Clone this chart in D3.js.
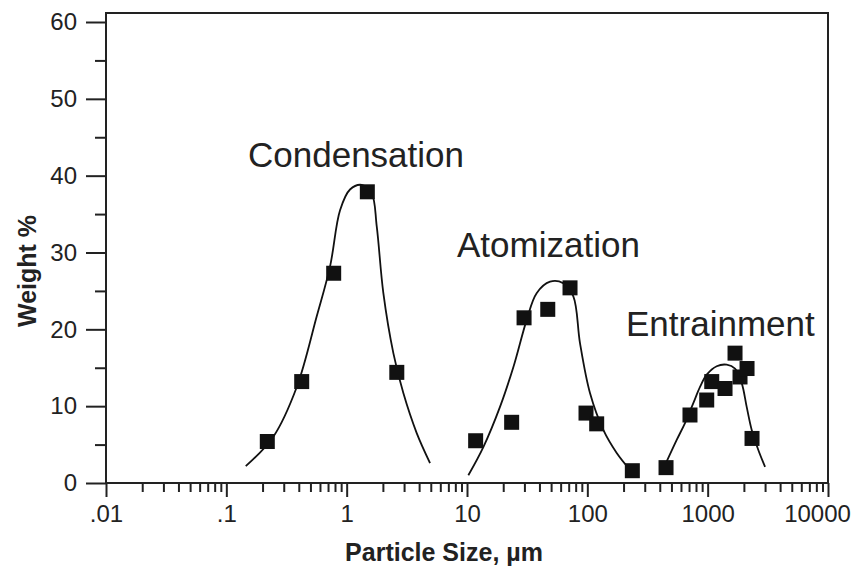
<!DOCTYPE html>
<html>
<head>
<meta charset="utf-8">
<script src="https://cdn.jsdelivr.net/npm/d3@7"></script>
<style>
  body { margin: 0; background: #fff; }
  svg { display: block; }
  text { font-family: "Liberation Sans", Arial, Helvetica, sans-serif; fill: #222; }
</style>
</head>
<body>
<div id="chart"></div>
<script>
// measured points (particle size in um, weight %)
const condSize = [0.219, 0.423, 0.78, 1.485, 2.61];
const condWeight = [5.4, 13.2, 27.3, 37.9, 14.4];
const atomSize = [11.8, 23.5, 29.8, 46.9, 71.8, 97.5, 119.6, 236.6];
const atomWeight = [5.5, 7.9, 21.5, 22.6, 25.4, 9.1, 7.7, 1.6];
const entrSize = [450.8, 713, 982, 1081, 1394, 1688, 1857, 2124, 2337];
const entrWeight = [2.0, 8.85, 10.8, 13.2, 12.3, 16.9, 13.8, 14.9, 5.8];

// fitted curves
const condCurveSize = [0.145, 0.245, 0.385, 0.564, 0.728, 0.881, 1.066, 1.333, 1.614, 1.778, 2.018, 2.443, 2.958, 3.82, 4.93];
const condCurveWeight = [2.2, 6.0, 12.5, 21.7, 28.2, 35.5, 38.2, 38.8, 37.7, 33.4, 24.7, 16.9, 11.7, 6.5, 2.6];
const atomCurveSize = [10.26, 13.7, 18.8, 24.3, 31.3, 37.9, 49.0, 63.1, 76.5, 86.9, 105.2, 135.8, 175.4, 226.4];
const atomCurveWeight = [1.0, 4.7, 9.9, 15.1, 21.2, 24.7, 26.2, 26.0, 24.3, 18.2, 11.7, 6.9, 3.9, 1.7];
const entrCurveSize = [456.7, 553, 648, 760, 864, 982, 1189, 1439, 1688, 1919, 2110, 2323, 2636, 2999];
const entrCurveWeight = [2.8, 5.6, 7.8, 10.4, 12.5, 14.1, 15.2, 15.4, 14.9, 13.0, 9.9, 6.9, 4.3, 2.1];

const groupNames = ["Condensation", "Atomization", "Entrainment"];

const xTickValues = [0.01, 0.1, 1, 10, 100, 1000, 10000];
const xTickLabels = [".01", ".1", "1", "10", "100", "1000", "10000"];
const yTickValues = [0, 10, 20, 30, 40, 50, 60];
const yMinorValues = [5, 15, 25, 35, 45, 55];

const width = 856;
const height = 567;
const margin = { top: 13, right: 28, bottom: 84, left: 106 };

const svg = d3.select("#chart")
    .append("svg")
    .attr("width", width)
    .attr("height", height);

const x = d3.scaleLog()
    .domain([0.01, 10000])
    .range([margin.left, width - margin.right]);

const y = d3.scaleLinear()
    .domain([0, 60])
    .range([height - margin.bottom, 22]);

const xMinor = [];
for (let d = -2; d < 4; d++) {
    for (let k = 2; k <= 9; k++) xMinor.push(k * Math.pow(10, d));
}

// x axis, major + minor ticks
svg.append("g")
    .attr("transform", `translate(0,${y(0)})`)
    .call(d3.axisBottom(x).tickValues(xTickValues)
        .tickFormat((d, i) => xTickLabels[i])
        .tickSize(14).tickPadding(8))
    .call(g => g.select(".domain").remove())
    .call(g => g.selectAll("line").attr("stroke", "#222").attr("stroke-width", 2))
    .call(g => g.selectAll("text").attr("font-size", "24px").attr("fill", "#222")
        .attr("dx", (d, i) => i === xTickValues.length - 1 ? -11 : 0));

svg.append("g")
    .attr("transform", `translate(0,${y(0)})`)
    .call(d3.axisBottom(x).tickValues(xMinor).tickFormat("").tickSize(9))
    .call(g => g.select(".domain").remove())
    .call(g => g.selectAll("line").attr("stroke", "#222").attr("stroke-width", 2));

// y axis
svg.append("g")
    .attr("transform", `translate(${margin.left},0)`)
    .call(d3.axisLeft(y).tickValues(yTickValues).tickSize(20).tickPadding(9))
    .call(g => g.select(".domain").remove())
    .call(g => g.selectAll("line").attr("stroke", "#222").attr("stroke-width", 2))
    .call(g => g.selectAll("text").attr("font-size", "24px").attr("fill", "#222"));

svg.append("g")
    .attr("transform", `translate(${margin.left},0)`)
    .call(d3.axisLeft(y).tickValues(yMinorValues).tickFormat("").tickSize(11))
    .call(g => g.select(".domain").remove())
    .call(g => g.selectAll("line").attr("stroke", "#222").attr("stroke-width", 2));

// frame
svg.append("rect")
    .attr("x", margin.left)
    .attr("y", margin.top)
    .attr("width", width - margin.right - margin.left)
    .attr("height", y(0) - margin.top)
    .attr("fill", "none")
    .attr("stroke", "#222")
    .attr("stroke-width", 2);

// curves
const line = d3.line()
    .x(d => x(d[0]))
    .y(d => y(d[1]))
    .curve(d3.curveCatmullRom.alpha(0.5));

const curves = [
    d3.zip(condCurveSize, condCurveWeight),
    d3.zip(atomCurveSize, atomCurveWeight),
    d3.zip(entrCurveSize, entrCurveWeight)
];

svg.append("g")
    .selectAll("path")
    .data(curves)
    .join("path")
    .attr("d", line)
    .attr("fill", "none")
    .attr("stroke", "#111")
    .attr("stroke-width", 1.8);

// square markers
const pts = d3.zip(condSize, condWeight)
    .concat(d3.zip(atomSize, atomWeight))
    .concat(d3.zip(entrSize, entrWeight));
const sq = 15;

svg.append("g")
    .attr("fill", "#111")
    .selectAll("rect")
    .data(pts)
    .join("rect")
    .attr("x", d => x(d[0]) - sq / 2)
    .attr("y", d => y(d[1]) - sq / 2)
    .attr("width", sq)
    .attr("height", sq);

// group labels
const labelPos = [[248, 167], [457, 257], [626, 336]];
svg.append("g")
    .selectAll("text")
    .data(groupNames)
    .join("text")
    .attr("x", (d, i) => labelPos[i][0])
    .attr("y", (d, i) => labelPos[i][1])
    .attr("font-size", "35px")
    .text(d => d);

// axis titles
svg.append("text")
    .attr("x", (margin.left + width - margin.right) / 2 - 23)
    .attr("y", 561)
    .attr("text-anchor", "middle")
    .attr("font-size", "25px")
    .attr("font-weight", "bold")
    .text("Particle Size, µm");

svg.append("text")
    .attr("transform", "translate(36,271) rotate(-90)")
    .attr("text-anchor", "middle")
    .attr("font-size", "25px")
    .attr("font-weight", "bold")
    .text("Weight %");
</script>
</body>
</html>
